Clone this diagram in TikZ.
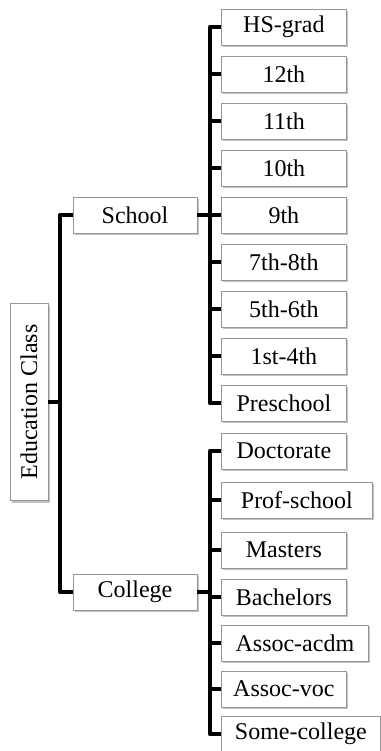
\documentclass[tikz,border=0pt]{standalone}
\usepackage{fontspec}
\setmainfont{Liberation Serif}
\usetikzlibrary{shadows}
\definecolor{boxgray}{RGB}{150,150,150}

\begin{document}
\begin{tikzpicture}[x=1pt,y=-1pt,
    box/.style={rectangle,draw=boxgray,fill=white,line width=0.8pt,minimum height=36pt,inner sep=2pt,font=\fontsize{24}{28}\selectfont,drop shadow={shadow xshift=1.5pt,shadow yshift=-2pt,fill=black!40,opacity=0.6}},
    leaf/.style={box,anchor=west,minimum width=125pt},
    mid/.style={box,minimum width=124pt},
    conn/.style={line width=4.5pt,line join=round}]
    \useasboundingbox (0,0) rectangle (380,751);

    % Radice
    \node[box,rotate=90,minimum width=197pt,minimum height=38pt] (root) at (29,402) {Education Class};
    \node[mid] (school) at (135,215) {School};
    \node[mid] (college) at (135,592) {College};

    % Scuola
    \node[leaf] (hsgrad) at (221,27) {HS-grad};
    \node[leaf] (twelfth) at (221,74) {12th};
    \node[leaf] (eleventh) at (221,121) {11th};
    \node[leaf] (tenth) at (221,168) {10th};
    \node[leaf] (ninth) at (221,215) {9th};
    \node[leaf] (seventh) at (221,262) {7th-8th};
    \node[leaf] (fifth) at (221,309) {5th-6th};
    \node[leaf] (first) at (221,356) {1st-4th};
    \node[leaf] (preschool) at (221,403) {Preschool};

    % College
    \node[leaf] (doctorate) at (221,451) {Doctorate};
    \node[leaf,minimum width=151pt] (profschool) at (221,500) {Prof-school};
    \node[leaf] (masters) at (221,550) {Masters};
    \node[leaf] (bachelors) at (221,597) {Bachelors};
    \node[leaf,minimum width=147pt] (assocacdm) at (221,643) {Assoc-acdm};
    \node[leaf] (assocvoc) at (221,689) {Assoc-voc};
    \node[leaf,minimum width=159pt] (somecollege) at (221,734) {Some-college};

    % Collegamenti
    \coordinate (rootbar) at (60,402);
    \coordinate (schoolbar) at (210,215);
    \coordinate (collegebar) at (210,592);

    \draw[conn] (root) -- (rootbar);
    \draw[conn] (rootbar) |- (school);
    \draw[conn] (rootbar) |- (college);

    \draw[conn] (school) -- (schoolbar);
    \foreach \c in {hsgrad,twelfth,eleventh,tenth,ninth,seventh,fifth,first,preschool}
        \draw[conn] (schoolbar) |- (\c);

    \draw[conn] (college) -- (collegebar);
    \foreach \c in {doctorate,profschool,masters,bachelors,assocacdm,assocvoc,somecollege}
        \draw[conn] (collegebar) |- (\c);
\end{tikzpicture}
\end{document}
